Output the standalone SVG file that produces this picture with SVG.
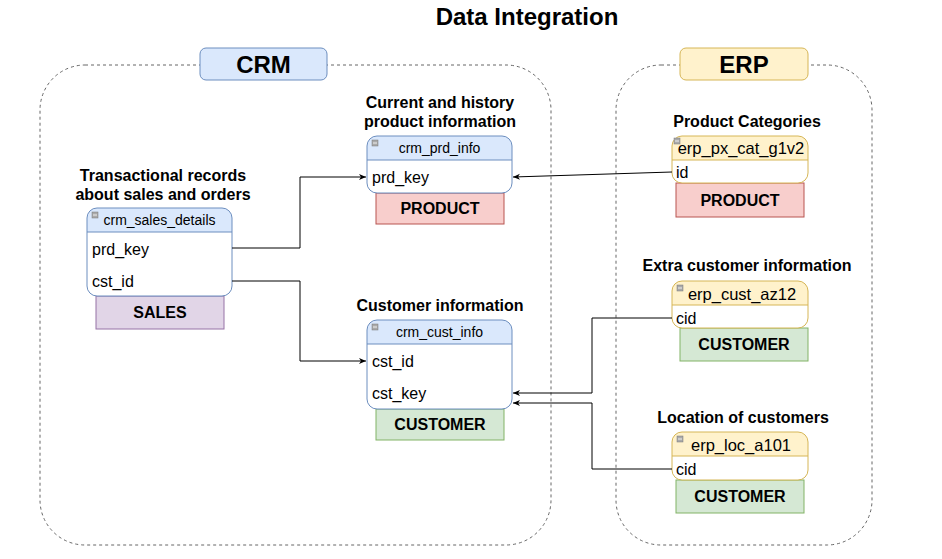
<svg xmlns="http://www.w3.org/2000/svg" width="942" height="559" viewBox="0 0 942 559">
<style>
.title{font-family:"Liberation Sans",Arial,sans-serif;font-weight:bold;font-size:24px;fill:#000}
.lbl{font-family:"Liberation Sans",Arial,sans-serif;font-weight:bold;font-size:16px;fill:#000}
.grp{font-family:"Liberation Sans",Arial,sans-serif;font-weight:bold;font-size:24px;fill:#000}
.ent{font-family:"Liberation Sans",Arial,sans-serif;font-weight:bold;font-size:16px;fill:#000}
.hd{font-family:"Liberation Sans",Arial,sans-serif;font-size:14px;fill:#000}
.hde{font-family:"Liberation Sans",Arial,sans-serif;font-size:16.5px;fill:#000}
.row{font-family:"Liberation Sans",Arial,sans-serif;font-size:16px;fill:#000}
.cont{fill:none;stroke:#666;stroke-width:1;stroke-dasharray:3 3}
.conn{fill:none;stroke:#000;stroke-width:1}
.icon{fill:#aaa;stroke:#777;stroke-width:0.5}
</style>
<defs>
<marker id="arr" markerWidth="8" markerHeight="8" refX="7" refY="4" orient="auto" markerUnits="userSpaceOnUse">
<path d="M0,1 L7,4 L0,7 L2,4 Z" fill="#000"/>
</marker>
</defs>
<rect width="942" height="559" fill="#fff"/>
<text class="title" x="527" y="25" text-anchor="middle">Data Integration</text>

<g id="crm-container">
<rect class="cont" x="40" y="65" width="511" height="480" rx="45"/>
<rect x="200" y="48" width="127" height="32" rx="6" fill="#dae8fc" stroke="#6c8ebf"/>
<text class="grp" x="263.5" y="73" text-anchor="middle">CRM</text>
</g>
<g id="erp-container">
<rect class="cont" x="616" y="65" width="256" height="480" rx="45"/>
<rect x="680" y="48" width="128" height="32" rx="6" fill="#fff2cc" stroke="#d6b656"/>
<text class="grp" x="744" y="73" text-anchor="middle">ERP</text>
</g>

<g id="crm_sales_details">
<text class="lbl" x="163" y="181" text-anchor="middle">Transactional records</text>
<text class="lbl" x="163" y="200" text-anchor="middle">about sales and orders</text>
<rect x="96" y="296" width="128" height="33" fill="#e1d5e7" stroke="#9673a6"/>
<text class="ent" x="160" y="318" text-anchor="middle">SALES</text>
<rect x="87" y="208" width="145" height="88" rx="10" fill="#fff"/>
<path d="M87,232 V218 A10,10 0 0 1 97,208 H222 A10,10 0 0 1 232,218 V232 Z" fill="#dae8fc"/>
<line x1="87" y1="232" x2="232" y2="232" stroke="#6c8ebf"/>
<rect x="87" y="208" width="145" height="88" rx="10" fill="none" stroke="#6c8ebf"/>
<rect class="icon" x="92" y="212" width="6" height="6"/>
<line x1="93" y1="215" x2="97" y2="215" stroke="#fff" stroke-width="0.8"/>
<text class="hd" x="159.5" y="225" text-anchor="middle">crm_sales_details</text>
<text class="row" x="92" y="255">prd_key</text>
<text class="row" x="92" y="287">cst_id</text>
</g>

<g id="crm_prd_info">
<text class="lbl" x="440" y="108" text-anchor="middle">Current and history</text>
<text class="lbl" x="440" y="127" text-anchor="middle">product information</text>
<rect x="376" y="193" width="128" height="31" fill="#f8cecc" stroke="#b85450"/>
<text class="ent" x="440" y="214" text-anchor="middle">PRODUCT</text>
<rect x="367" y="136" width="145" height="57" rx="10" fill="#fff"/>
<path d="M367,160 V146 A10,10 0 0 1 377,136 H502 A10,10 0 0 1 512,146 V160 Z" fill="#dae8fc"/>
<line x1="367" y1="160" x2="512" y2="160" stroke="#6c8ebf"/>
<rect x="367" y="136" width="145" height="57" rx="10" fill="none" stroke="#6c8ebf"/>
<rect class="icon" x="372" y="140" width="6" height="6"/>
<line x1="373" y1="143" x2="377" y2="143" stroke="#fff" stroke-width="0.8"/>
<text class="hd" x="439.5" y="153" text-anchor="middle">crm_prd_info</text>
<text class="row" x="372" y="183">prd_key</text>
</g>

<g id="crm_cust_info">
<text class="lbl" x="440" y="311" text-anchor="middle">Customer information</text>
<rect x="376" y="409" width="128" height="31" fill="#d5e8d4" stroke="#82b366"/>
<text class="ent" x="440" y="430" text-anchor="middle">CUSTOMER</text>
<rect x="367" y="320" width="145" height="89" rx="10" fill="#fff"/>
<path d="M367,344 V330 A10,10 0 0 1 377,320 H502 A10,10 0 0 1 512,330 V344 Z" fill="#dae8fc"/>
<line x1="367" y1="344" x2="512" y2="344" stroke="#6c8ebf"/>
<rect x="367" y="320" width="145" height="89" rx="10" fill="none" stroke="#6c8ebf"/>
<rect class="icon" x="372" y="324" width="6" height="6"/>
<line x1="373" y1="327" x2="377" y2="327" stroke="#fff" stroke-width="0.8"/>
<text class="hd" x="439.5" y="337" text-anchor="middle">crm_cust_info</text>
<text class="row" x="372" y="367">cst_id</text>
<text class="row" x="372" y="399">cst_key</text>
</g>

<g id="erp_px_cat_g1v2">
<text class="lbl" x="747" y="127" text-anchor="middle">Product Categories</text>
<rect x="676" y="183" width="128" height="34" fill="#f8cecc" stroke="#b85450"/>
<text class="ent" x="740" y="206" text-anchor="middle">PRODUCT</text>
<rect x="672" y="136" width="136" height="47" rx="10" fill="#fff"/>
<path d="M672,160 V146 A10,10 0 0 1 682,136 H798 A10,10 0 0 1 808,146 V160 Z" fill="#fff2cc"/>
<line x1="672" y1="160" x2="808" y2="160" stroke="#d6b656"/>
<rect x="672" y="136" width="136" height="47" rx="10" fill="none" stroke="#d6b656"/>
<rect class="icon" x="674" y="138" width="6" height="6"/>
<line x1="675" y1="141" x2="679" y2="141" stroke="#fff" stroke-width="0.8"/>
<text class="hde" x="741" y="154" text-anchor="middle">erp_px_cat_g1v2</text>
<text class="row" x="676" y="178">id</text>
</g>

<g id="erp_cust_az12">
<text class="lbl" x="747" y="271" text-anchor="middle">Extra customer information</text>
<rect x="680" y="328" width="128" height="33" fill="#d5e8d4" stroke="#82b366"/>
<text class="ent" x="744" y="350" text-anchor="middle">CUSTOMER</text>
<rect x="672" y="281" width="136" height="47" rx="10" fill="#fff"/>
<path d="M672,305 V291 A10,10 0 0 1 682,281 H798 A10,10 0 0 1 808,291 V305 Z" fill="#fff2cc"/>
<line x1="672" y1="305" x2="808" y2="305" stroke="#d6b656"/>
<rect x="672" y="281" width="136" height="47" rx="10" fill="none" stroke="#d6b656"/>
<rect class="icon" x="677" y="285" width="6" height="6"/>
<line x1="678" y1="288" x2="682" y2="288" stroke="#fff" stroke-width="0.8"/>
<text class="hde" x="742" y="300" text-anchor="middle">erp_cust_az12</text>
<text class="row" x="676" y="324">cid</text>
</g>

<g id="erp_loc_a101">
<text class="lbl" x="743" y="423" text-anchor="middle">Location of customers</text>
<rect x="676" y="480" width="128" height="33" fill="#d5e8d4" stroke="#82b366"/>
<text class="ent" x="740" y="502" text-anchor="middle">CUSTOMER</text>
<rect x="672" y="432" width="136" height="48" rx="10" fill="#fff"/>
<path d="M672,456 V442 A10,10 0 0 1 682,432 H798 A10,10 0 0 1 808,442 V456 Z" fill="#fff2cc"/>
<line x1="672" y1="456" x2="808" y2="456" stroke="#d6b656"/>
<rect x="672" y="432" width="136" height="48" rx="10" fill="none" stroke="#d6b656"/>
<rect class="icon" x="677" y="436" width="6" height="6"/>
<line x1="678" y1="439" x2="682" y2="439" stroke="#fff" stroke-width="0.8"/>
<text class="hde" x="741" y="451" text-anchor="middle">erp_loc_a101</text>
<text class="row" x="676" y="475">cid</text>
</g>

<g id="connectors">
<path class="conn" d="M232,248 H300 V177 H366" marker-end="url(#arr)"/>
<path class="conn" d="M232,281 H300 V361 H366" marker-end="url(#arr)"/>
<path class="conn" d="M672,172 L513,177" marker-end="url(#arr)"/>
<path class="conn" d="M672,318 H592 V393 H513" marker-end="url(#arr)"/>
<path class="conn" d="M672,469 H592 V403 H513" marker-end="url(#arr)"/>
</g>
</svg>
